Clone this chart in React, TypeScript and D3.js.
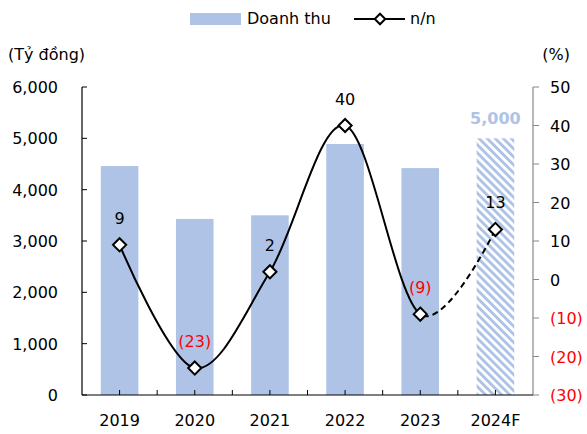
import React from "react";
import * as d3 from "d3";

const years = ["2019", "2020", "2021", "2022", "2023", "2024F"];
const revenue = [4460, 3430, 3500, 4890, 4420, 5000];
const growth = [9, -23, 2, 40, -9, 13];
const leftTicks = [0, 1000, 2000, 3000, 4000, 5000, 6000];
const rightTicks = [-30, -20, -10, 0, 10, 20, 30, 40, 50];

const W = 587, H = 434;
const X0 = 82, X1 = 533, Y0 = 395, Y1 = 87;
const FONT = "DejaVu Sans, Verdana, sans-serif";
const BAR = "#aec3e6";
const RED = "#ff0000";

const fmtPct = (v: number) => (v < 0 ? `(${Math.abs(v)})` : `${v}`);

export default function App() {
  const x = d3.scaleBand<string>().domain(years).range([X0, X1]).paddingInner(0.5).paddingOuter(0.25);
  const step = x.step();
  const cx = (y: string) => (x(y) as number) + x.bandwidth() / 2;
  const yL = d3.scaleLinear().domain([0, 6000]).range([Y0, Y1]);
  const yR = d3.scaleLinear().domain([-30, 50]).range([Y0, Y1]);
  const pts: [number, number][] = years.map((y, i) => [cx(y), yR(growth[i])]);
  const line = d3.line().curve(d3.curveCatmullRom.alpha(0))(pts) as string;
  const xSplit = cx(years[4]);
  const fmtL = d3.format(",");
  const catEdges = d3.range(years.length + 1).map((i) => X0 + i * step);

  return (
    <svg width={W} height={H} style={{ position: "absolute", left: 0, top: 0, fontFamily: FONT }}>
      <defs>
        <pattern id="hatch" patternUnits="userSpaceOnUse" width={5.7} height={5.7} patternTransform="rotate(-45)">
          <rect x={0} y={0} width={2.9} height={5.7} fill={BAR} />
        </pattern>
        <clipPath id="clipSolid">
          <rect x={0} y={0} width={xSplit} height={H} />
        </clipPath>
        <clipPath id="clipDash">
          <rect x={xSplit} y={0} width={W - xSplit} height={H} />
        </clipPath>
      </defs>
      <rect width={W} height={H} fill="#fff" />

      {/* legend */}
      <rect x={190} y={13} width={51} height={12} fill={BAR} />
      <text x={247} y={24} fontSize={16} fill="#000">Doanh thu</text>
      <line x1={354} x2={405} y1={19} y2={19} stroke="#000" strokeWidth={2} />
      <path d={d3.symbol().type(d3.symbolDiamond2).size(70)() as string} transform="translate(380,19)" fill="#fff" stroke="#000" strokeWidth={2} />
      <text x={410} y={24} fontSize={16} fill="#000">n/n</text>

      <text x={8} y={60} fontSize={16} fill="#000">(Tỷ đồng)</text>
      <text x={570} y={60} fontSize={16} fill="#000" textAnchor="end">(%)</text>

      {/* bars */}
      {years.map((y, i) => (
        <rect key={y} x={x(y)} y={yL(revenue[i])} width={x.bandwidth()} height={Y0 - yL(revenue[i])}
          fill={i === years.length - 1 ? "url(#hatch)" : BAR} />
      ))}
      <text x={cx(years[5])} y={yL(revenue[5]) - 14} fontSize={16} fontWeight="bold" fill={BAR} textAnchor="middle">
        {fmtL(revenue[5])}
      </text>

      {/* left axis */}
      <line x1={X0} x2={X0} y1={Y1} y2={Y0} stroke="#000" strokeWidth={1.2} />
      {leftTicks.map((t) => (
        <g key={t}>
          <line x1={X0} x2={X0 + 5} y1={yL(t)} y2={yL(t)} stroke="#000" />
          <text x={58} y={yL(t) + 6} fontSize={16} textAnchor="end" fill="#000">{fmtL(t)}</text>
        </g>
      ))}

      {/* right axis */}
      <line x1={X1} x2={X1} y1={Y1} y2={Y0} stroke="#888" strokeWidth={1.2} />
      {rightTicks.map((t) => (
        <g key={t}>
          <line x1={X1} x2={X1 + 6} y1={yR(t)} y2={yR(t)} stroke="#888" />
          <text x={550} y={yR(t) + 6} fontSize={16} fill={t < 0 ? RED : "#000"}>{fmtPct(t)}</text>
        </g>
      ))}

      {/* bottom axis */}
      <line x1={X0} x2={X1} y1={Y0} y2={Y0} stroke="#000" strokeWidth={1.2} />
      {catEdges.slice(1, -1).map((e, i) => (
        <line key={"e" + i} x1={e} x2={e} y1={Y0} y2={Y0 - 5} stroke="#000" />
      ))}
      {years.map((y) => (
        <g key={y}>
          <line x1={cx(y)} x2={cx(y)} y1={Y0} y2={Y0 - 5} stroke="#000" />
          <text x={cx(y)} y={426} fontSize={16} textAnchor="middle" fill="#000">{y}</text>
        </g>
      ))}

      {/* growth line */}
      <path d={line} fill="none" stroke="#000" strokeWidth={2} clipPath="url(#clipSolid)" />
      <path d={line} fill="none" stroke="#000" strokeWidth={2} strokeDasharray="6,4" clipPath="url(#clipDash)" />
      {pts.map(([px, py], i) => (
        <g key={i}>
          <path d={d3.symbol().type(d3.symbolDiamond2).size(110)() as string} transform={`translate(${px},${py})`}
            fill="#fff" stroke="#000" strokeWidth={2} />
          <text x={px} y={py - 21} fontSize={16} textAnchor="middle" fill={growth[i] < 0 ? RED : "#000"}>
            {fmtPct(growth[i])}
          </text>
        </g>
      ))}
    </svg>
  );
}
